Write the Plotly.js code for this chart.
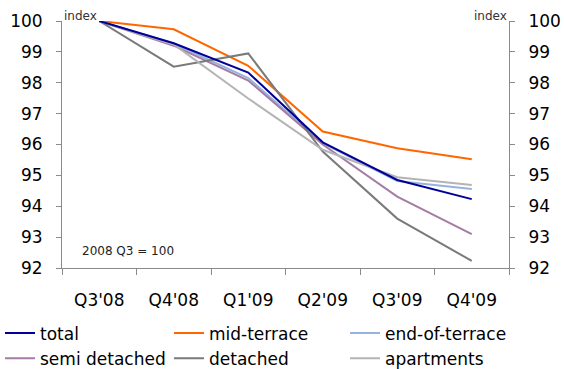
<!DOCTYPE html>
<html>
<head>
<meta charset="utf-8">
<script src="https://cdn.plot.ly/plotly-3.0.1.min.js"></script>
<style>
  html, body { margin: 0; padding: 0; background: #fff; }
  #chart { width: 564px; height: 369px; }
</style>
</head>
<body>
<div id="chart"></div>
<script>
// House price index by dwelling type, 2008 Q3 = 100
const quarters = ["Q3'08", "Q4'08", "Q1'09", "Q2'09", "Q3'09", "Q4'09"];

const total         = [100, 99.28, 98.33, 96.07, 94.85, 94.23];
const midTerrace    = [100, 99.73, 98.55, 96.42, 95.88, 95.52];
const endOfTerrace  = [100, 99.27, 98.15, 96.04, 94.82, 94.56];
const semiDetached  = [100, 99.20, 98.07, 96.00, 94.31, 93.10];
const detached      = [100, 98.52, 98.95, 95.77, 93.60, 92.23];
const apartments    = [100, 99.24, 97.49, 95.83, 94.94, 94.69];

// legend is laid out in three columns of two entries each
const seriesList = [
  { name: 'total',          y: total,        color: '#000099', legend: 'legend',  rank: 1 },
  { name: 'mid-terrace',    y: midTerrace,   color: '#FF6600', legend: 'legend2', rank: 1 },
  { name: 'end-of-terrace', y: endOfTerrace, color: '#95B3DE', legend: 'legend3', rank: 1 },
  { name: 'semi detached',  y: semiDetached, color: '#A47CA4', legend: 'legend',  rank: 2 },
  { name: 'detached',       y: detached,     color: '#7A7A7A', legend: 'legend2', rank: 2 },
  { name: 'apartments',     y: apartments,   color: '#B4B4B4', legend: 'legend3', rank: 2 }
];

// draw "total" last so it sits on top of the other lines
const drawOrder = [1, 2, 3, 4, 5, 0];
const traces = drawOrder.map(i => {
  const s = seriesList[i];
  return {
    type: 'scatter',
    mode: 'lines',
    x: quarters,
    y: s.y,
    name: s.name,
    legend: s.legend,
    legendrank: s.rank,
    line: { color: s.color, width: 2 },
    hoverinfo: 'skip'
  };
});

// invisible trace carrying the mirrored right-hand axis
traces.push({
  type: 'scatter', mode: 'lines', x: quarters, y: total,
  yaxis: 'y2', showlegend: false, hoverinfo: 'skip',
  line: { color: 'rgba(0,0,0,0)', width: 0 }
});

const axisColor = '#8A8A8A';
const font = 'DejaVu Sans, Verdana, sans-serif';

const yCommon = {
  range: [92, 100],
  dtick: 1,
  tick0: 92,
  showgrid: false,
  zeroline: false,
  showline: true,
  linecolor: axisColor,
  linewidth: 1,
  ticks: 'outside',
  ticklen: 5,
  tickcolor: axisColor,
  tickfont: { family: font, size: 17, color: '#000' },
  ticklabelstandoff: 10,
  fixedrange: true
};

function legendColumn(x) {
  return {
    orientation: 'v',
    xref: 'container',
    yref: 'container',
    x: x,
    xanchor: 'left',
    y: 0.145,
    yanchor: 'top',
    font: { family: font, size: 17, color: '#000' },
    bgcolor: 'rgba(0,0,0,0)',
    tracegroupgap: 0,
    itemclick: false,
    itemdoubleclick: false
  };
}

const layout = {
  width: 564,
  height: 369,
  margin: { l: 62, r: 55, t: 21, b: 101, autoexpand: false },
  paper_bgcolor: '#fff',
  plot_bgcolor: '#fff',
  showlegend: true,
  xaxis: {
    type: 'category',
    range: [-0.5, 5.5],
    tickson: 'boundaries',
    ticks: 'outside',
    ticklen: 6,
    tickcolor: axisColor,
    showline: true,
    linecolor: axisColor,
    linewidth: 1,
    showgrid: false,
    zeroline: false,
    automargin: false,
    tickangle: 0,
    tickfont: { family: font, size: 17, color: '#000' },
    ticklabelstandoff: 17,
    fixedrange: true
  },
  yaxis: Object.assign({}, yCommon, { side: 'left' }),
  yaxis2: Object.assign({}, yCommon, { side: 'right', overlaying: 'y' }),
  legend: legendColumn(0),
  legend2: legendColumn(0.2996),
  legend3: legendColumn(0.6117),
  annotations: [
    {
      xref: 'paper', yref: 'paper', x: 0, y: 1, xanchor: 'left', yanchor: 'bottom',
      text: 'index', showarrow: false, font: { family: font, size: 12, color: '#333' },
      yshift: -4
    },
    {
      xref: 'paper', yref: 'paper', x: 1, y: 1, xanchor: 'right', yanchor: 'bottom',
      text: 'index', showarrow: false, font: { family: font, size: 12, color: '#333' },
      yshift: -4
    },
    {
      xref: 'paper', yref: 'paper', x: 0.04, y: 0.07, xanchor: 'left', yanchor: 'middle',
      text: '2008 Q3 = 100', showarrow: false, font: { family: font, size: 12, color: '#222' }
    }
  ]
};

Plotly.newPlot('chart', traces, layout, { staticPlot: true, displayModeBar: false });
</script>
</body>
</html>
